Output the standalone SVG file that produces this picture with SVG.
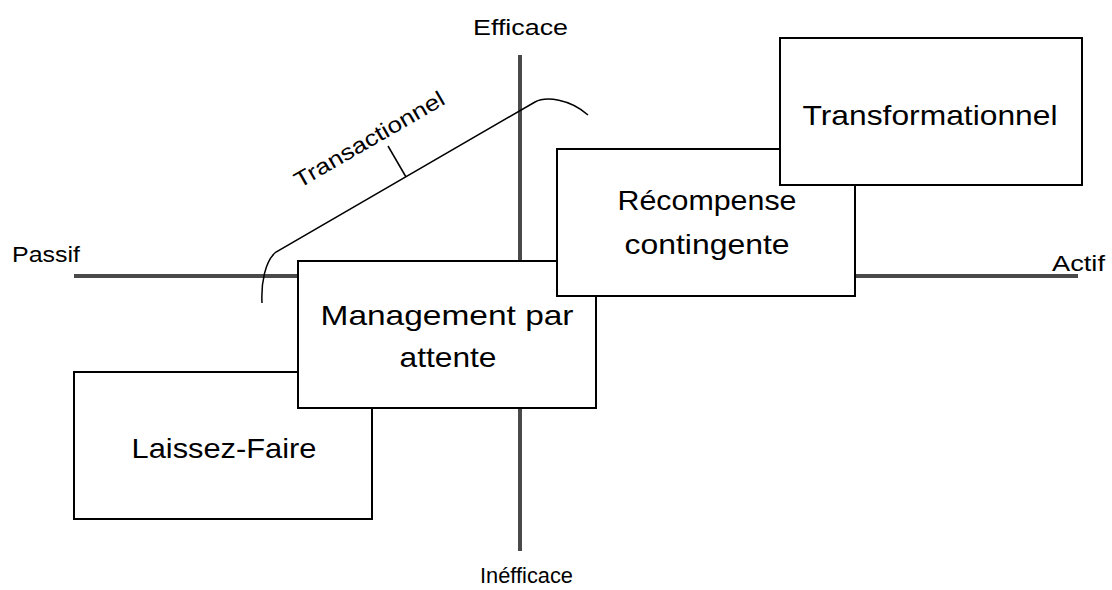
<svg xmlns="http://www.w3.org/2000/svg" width="1112" height="590" viewBox="0 0 1112 590">
  <style>
    .axis { stroke: #4a4a4a; stroke-width: 4; fill: none; }
    .box { fill: #ffffff; stroke: #000000; stroke-width: 2; }
    .lbl { font-family: "Liberation Sans", Arial, sans-serif; fill: #000000; }
    .big { font-size: 28px; text-anchor: middle; }
    .small { font-size: 22px; }
    .brace { stroke: #000000; stroke-width: 1.5; fill: none; }
  </style>
  <rect width="1112" height="590" fill="#ffffff"/>

  <!-- axes -->
  <g id="axes">
    <line class="axis" x1="74" y1="276" x2="1078" y2="276"/>
    <line class="axis" x1="520" y1="55" x2="520" y2="551"/>
    <text class="lbl small" x="12" y="262" textLength="68" lengthAdjust="spacingAndGlyphs">Passif</text>
    <text class="lbl small" x="1052" y="271" textLength="53" lengthAdjust="spacingAndGlyphs">Actif</text>
    <text class="lbl small" x="473" y="35" textLength="95" lengthAdjust="spacingAndGlyphs">Efficace</text>
    <text class="lbl small" x="480" y="583" textLength="93" lengthAdjust="spacingAndGlyphs">Inéfficace</text>
  </g>

  <!-- brace grouping the transactional styles -->
  <g id="connectors">
    <path class="brace" d="M262,303 C261,283 265,261 276,252 L535,102 C546,96 570,99 588,115"/>
    <line class="brace" x1="406" y1="177" x2="388" y2="146"/>
    <text class="lbl small" transform="translate(369,139) rotate(-30)" x="0" y="8" text-anchor="middle" textLength="170" lengthAdjust="spacingAndGlyphs">Transactionnel</text>
  </g>

  <g id="laissez-faire">
    <rect class="box" x="74" y="372" width="298" height="147"/>
    <text class="lbl big" x="224" y="458" textLength="185" lengthAdjust="spacingAndGlyphs">Laissez-Faire</text>
  </g>

  <g id="management-par-attente">
    <rect class="box" x="298" y="261" width="298" height="147"/>
    <text class="lbl big" x="447" y="325" textLength="253" lengthAdjust="spacingAndGlyphs">Management par</text>
    <text class="lbl big" x="448" y="367" textLength="97" lengthAdjust="spacingAndGlyphs">attente</text>
  </g>

  <g id="recompense-contingente">
    <rect class="box" x="557" y="149" width="298" height="147"/>
    <text class="lbl big" x="707" y="210" textLength="179" lengthAdjust="spacingAndGlyphs">Récompense</text>
    <text class="lbl big" x="707" y="254" textLength="165" lengthAdjust="spacingAndGlyphs">contingente</text>
  </g>

  <g id="transformationnel">
    <rect class="box" x="780" y="38" width="302" height="147"/>
    <text class="lbl big" x="930" y="125" font-size="31" textLength="255" lengthAdjust="spacingAndGlyphs">Transformationnel</text>
  </g>
</svg>
